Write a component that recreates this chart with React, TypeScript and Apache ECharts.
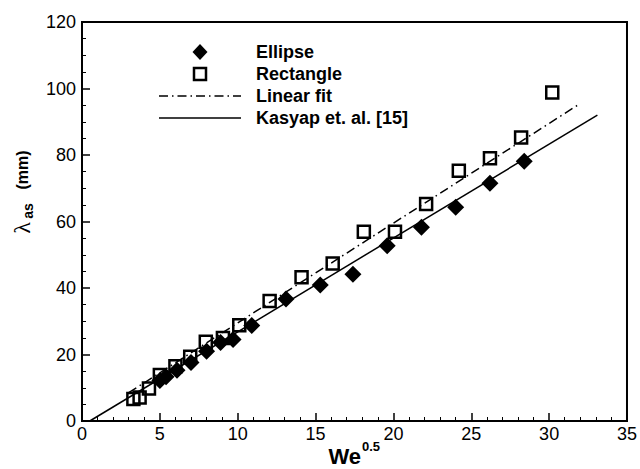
import React, { useEffect, useRef } from "react";
import * as echarts from "echarts";

const ellipseData: [number, number][] = [
  [5.0, 12.2], [5.4, 13.3], [6.1, 15.3], [7.0, 17.6], [8.0, 21.0], [8.9, 23.6],
  [9.7, 24.5], [10.9, 28.7], [13.1, 36.7], [15.3, 40.9], [17.4, 44.1], [19.6, 52.7],
  [21.8, 58.3], [24.0, 64.3], [26.2, 71.5], [28.4, 78.1],
];
const rectangleData: [number, number][] = [
  [3.3, 6.6], [3.7, 7.1], [4.3, 9.8], [5.0, 13.8], [6.0, 16.5], [6.95, 19.3],
  [7.95, 23.8], [9.05, 25.0], [10.1, 28.8], [12.05, 36.1], [14.1, 43.2], [16.1, 47.4],
  [18.1, 56.9], [20.1, 56.9], [22.1, 65.3], [24.2, 75.3], [26.2, 79.0], [28.2, 85.3],
  [30.2, 98.8],
];
const linearFit: [number, number][] = [[3.0, 8.5], [32.0, 95.5]];
const kasyap: [number, number][] = [[0.5, 0], [33.1, 92.0]];
const seriesNames = ["Ellipse", "Rectangle", "Linear fit", "Kasyap et. al. [15]"];

const DASH_DOT = [9, 4, 1.5, 4];

export default function App() {
  const ref = useRef<HTMLDivElement>(null);
  useEffect(() => {
    if (!ref.current) return;
    const chart = echarts.init(ref.current, null, { renderer: "svg" });
    const font = "'Liberation Sans', Arial, sans-serif";
    const legendFont = "bold 18px 'Liberation Sans', Arial, sans-serif";
    const lx = 159, lw = 82, cx = 200, tx = 256;
    const rows = [52, 74, 96, 118];
    chart.setOption({
      animation: false,
      backgroundColor: "#fff",
      grid: { left: 82, right: 12, top: 22, bottom: 48, show: true, borderColor: "#000", borderWidth: 2, backgroundColor: "transparent" },
      xAxis: {
        type: "value", min: 0, max: 35, interval: 5,
        axisLine: { lineStyle: { color: "#000", width: 2 } },
        axisTick: { inside: true, length: 8, lineStyle: { color: "#000", width: 1.5 } },
        minorTick: { show: true, splitNumber: 5, length: 4, lineStyle: { color: "#000", width: 1 } },
        axisLabel: { color: "#000", fontFamily: font, fontSize: 18, margin: 4 },
        splitLine: { show: false },
      },
      yAxis: {
        type: "value", min: 0, max: 120, interval: 20,
        axisLine: { lineStyle: { color: "#000", width: 2 } },
        axisTick: { inside: true, length: 8, lineStyle: { color: "#000", width: 1.5 } },
        minorTick: { show: true, splitNumber: 4, length: 4, lineStyle: { color: "#000", width: 1 } },
        axisLabel: { color: "#000", fontFamily: font, fontSize: 18, margin: 6 },
        splitLine: { show: false },
      },
      series: [
        {
          name: seriesNames[2], type: "line", data: linearFit, symbol: "none",
          lineStyle: { color: "#000", width: 1.5, type: DASH_DOT }, z: 1,
        },
        {
          name: seriesNames[3], type: "line", data: kasyap, symbol: "none",
          lineStyle: { color: "#000", width: 1.5 }, z: 1,
        },
        {
          name: seriesNames[0], type: "scatter", data: ellipseData, symbol: "diamond", symbolSize: 17,
          itemStyle: { color: "#000", opacity: 1 }, z: 3,
        },
        {
          name: seriesNames[1], type: "scatter", data: rectangleData, symbol: "rect", symbolSize: 12,
          itemStyle: { color: "rgba(255,255,255,0)", borderColor: "#000", borderWidth: 2.5, opacity: 1 }, z: 4,
        },
      ],
      graphic: [
        // legend
        { type: "polygon", shape: { points: [[cx, rows[0] - 8], [cx + 7.5, rows[0]], [cx, rows[0] + 8], [cx - 7.5, rows[0]]] }, style: { fill: "#000" } },
        { type: "rect", shape: { x: cx - 6, y: rows[1] - 6, width: 12, height: 12 }, style: { fill: "none", stroke: "#000", lineWidth: 2.5 } },
        { type: "line", shape: { x1: lx, y1: rows[2], x2: lx + lw, y2: rows[2] }, style: { stroke: "#000", lineWidth: 1.5, lineDash: DASH_DOT } },
        { type: "line", shape: { x1: lx, y1: rows[3], x2: lx + lw, y2: rows[3] }, style: { stroke: "#000", lineWidth: 1.5 } },
        ...seriesNames.map((n, i) => ({
          type: "text", x: tx, y: rows[i],
          style: { text: n, font: legendFont, fill: "#000", align: "left", verticalAlign: "middle" },
        })),
        // y axis title
        {
          type: "group", x: 22, y: 197, rotation: Math.PI / 2,
          children: [
            { type: "text", x: -31, y: 0, style: { text: "\u03bb", font: "24px 'Liberation Serif', serif", fill: "#000", align: "center", verticalAlign: "middle" } },
            { type: "text", x: -14, y: 6, style: { text: "as", font: "bold 14px 'Liberation Sans', Arial, sans-serif", fill: "#000", align: "center", verticalAlign: "middle" } },
            { type: "text", x: 27, y: 0, style: { text: "(mm)", font: "bold 16px 'Liberation Sans', Arial, sans-serif", fill: "#000", align: "center", verticalAlign: "middle" } },
          ],
        },
        // x axis title
        { type: "text", x: 361, y: 456, style: { text: "We", font: "bold 22px 'Liberation Sans', Arial, sans-serif", fill: "#000", align: "right", verticalAlign: "middle" } },
        { type: "text", x: 362, y: 446, style: { text: "0.5", font: "bold 13px 'Liberation Sans', Arial, sans-serif", fill: "#000", align: "left", verticalAlign: "middle" } },
      ],
    });
    return () => chart.dispose();
  }, []);
  return <div ref={ref} style={{ width: 640, height: 469, position: "absolute", left: 0, top: 0 }} />;
}
